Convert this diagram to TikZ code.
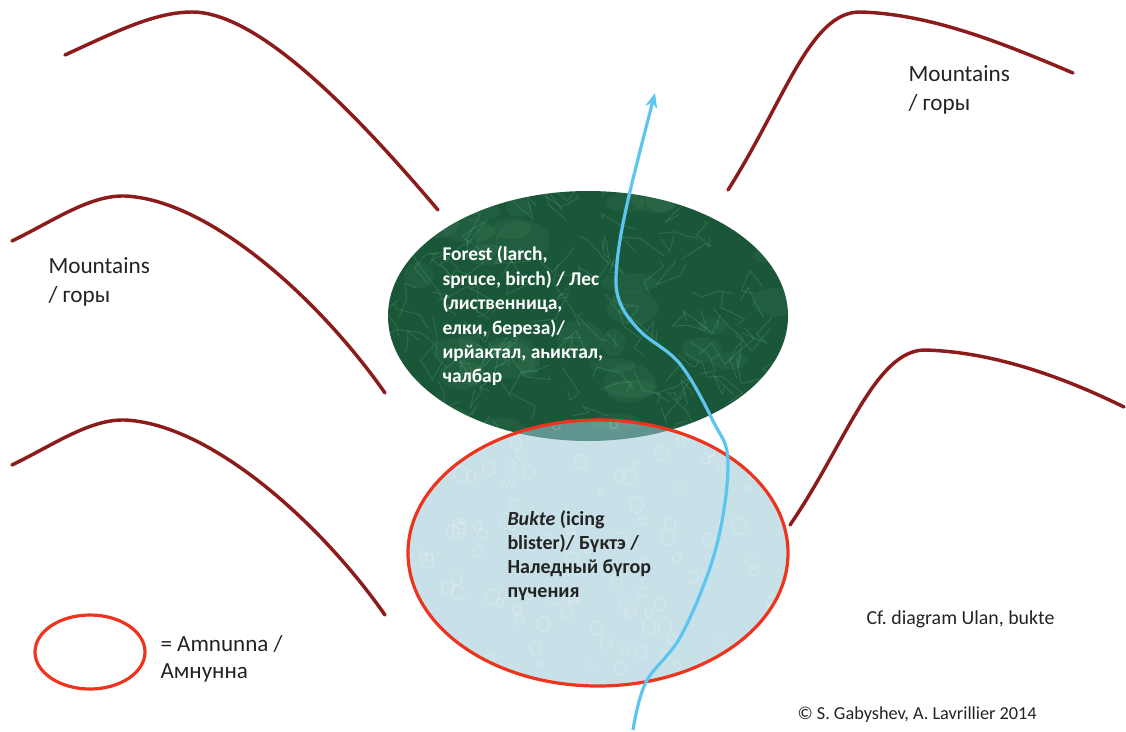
\documentclass[tikz,border=0pt]{standalone}
\usepackage{fontspec}
\setmainfont{Carlito}
\usetikzlibrary{arrows.meta}
\frenchspacing

\definecolor{ridge}{RGB}{140,28,28}
\definecolor{forestgreen}{RGB}{26,86,56}
\definecolor{veingreen}{RGB}{120,190,150}
\definecolor{icefill}{RGB}{155,200,213}
\definecolor{amnred}{RGB}{236,52,30}
\definecolor{river}{RGB}{92,198,240}
\definecolor{labelgray}{RGB}{35,35,35}

\tikzset{every picture/.style={line width=0.75pt}}
\tikzset{
  ridgeline/.style={draw=ridge, line width=2.6pt, line cap=round},
  amnunna/.style={draw=amnred, line width=2.4pt},
  vein/.style={draw=veingreen, line width=0.7pt, opacity=0.22},
  blotch/.style={fill=veingreen, opacity=0.08},
  drop/.style={draw=white, line width=0.5pt, opacity=0.3},
  lbl/.style={anchor=north west, inner sep=0.75pt, align=left, text=labelgray},
}

\begin{document}
\begin{tikzpicture}[x=0.75pt,y=0.75pt,yscale=-1,xscale=1]
      \useasboundingbox (0,0) rectangle (1126,731);

      %Curve Lines [id:ridge_top_left]
      \draw [ridgeline]  (65,55) .. controls (115,32) and (155,12) .. (192,12) .. controls (260,12) and (360,118) .. (438,210) ;
      %Curve Lines [id:ridge_mid_left]
      \draw [ridgeline]  (12,241) .. controls (55,220) and (90,195) .. (125,196) .. controls (210,200) and (320,300) .. (385,393) ;
      %Curve Lines [id:ridge_low_left]
      \draw [ridgeline]  (12,465) .. controls (55,444) and (90,419) .. (125,420) .. controls (210,424) and (320,522) .. (385,615) ;
      %Curve Lines [id:ridge_top_right]
      \draw [ridgeline]  (728,190) .. controls (785,100) and (810,12) .. (860,12) .. controls (930,14) and (1000,42) .. (1073,73) ;
      %Curve Lines [id:ridge_low_right]
      \draw [ridgeline]  (790,525) .. controls (845,445) and (875,350) .. (925,350) .. controls (995,352) and (1065,378) .. (1124,407) ;

      %Shape: Ellipse [id:forest]
      \fill [forestgreen] (588,316) ellipse [x radius=200, y radius=125] ;
      \begin{scope}
        \clip (588,316) ellipse [x radius=200, y radius=125] ;
        \pgfmathsetseed{11}
        \foreach \i in {1,...,40} {
          \fill [blotch] (388+rnd*400,191+rnd*250) ellipse [x radius=10+rnd*20, y radius=6+rnd*14] ;
        }
        \foreach \i in {1,...,120} {
          \pgfmathsetmacro\xa{388+rnd*400}
          \pgfmathsetmacro\ya{191+rnd*250}
          \draw [vein] (\xa,\ya) -- ++(rand*26,rand*26) -- ++(rand*26,rand*26) -- ++(rand*18,rand*18) ;
        }
      \end{scope}

      %Shape: Ellipse [id:bukte]
      \fill [icefill, fill opacity=0.55] (598,553) ellipse [x radius=190, y radius=133] ;
      \begin{scope}
        \clip (598,553) ellipse [x radius=190, y radius=133] ;
        \pgfmathsetseed{5}
        \foreach \i in {1,...,120} {
          \pgfmathsetmacro\xa{408+rnd*380}
          \pgfmathsetmacro\ya{420+rnd*266}
          \pgfmathsetmacro\ra{2+rnd*5}
          \draw [drop] (\xa,\ya) ellipse [x radius=\ra, y radius=\ra*1.2] ;
        }
      \end{scope}
      \draw [amnunna] (598,553) ellipse [x radius=190, y radius=133] ;

      %Curve Lines [id:river]
      \draw [draw=river, line width=2.4pt, -{Stealth[length=11pt,width=9pt]}]
        plot [smooth, tension=0.6] coordinates {(633,730) (646,682) (682,634) (716,548) (728,462) (713,421) (680,364) (640,331) (619,300) (617,263) (628,200) (655,93)} ;

      %Shape: Ellipse [id:legend]
      \draw [amnunna] (90,652) ellipse [x radius=55, y radius=37] ;

      % Text Node
      \draw (441,245) node [lbl, text=white, font=\bfseries\fontsize{14.6}{18.3}\selectfont] (forestlbl) {Forest (larch,\\spruce, birch) / Лес\\(лиственница,\\елки, береза)/\\ирйактал, аһиктал,\\чалбар};
      % Text Node
      \draw (506,509) node [lbl, font=\bfseries\fontsize{15}{18}\selectfont] (buktelbl) {\textit{Bukte} (icing\\blister)/ Бүктэ /\\Наледный бүгор\\пүчения};
      % Text Node
      \draw (47,256) node [lbl, font=\fontsize{17.4}{21.8}\selectfont] (mountleft) {Mountains\\/ горы};
      % Text Node
      \draw (907,64) node [lbl, font=\fontsize{17.4}{21.8}\selectfont] (mountright) {Mountains\\/ горы};
      % Text Node
      \draw (159,634) node [lbl, font=\fontsize{17.3}{20.3}\selectfont] (legendlbl) {= Amnunna /\\Амнунна};
      % Text Node
      \draw (865,609) node [lbl, font=\fontsize{14.9}{17}\selectfont] (cfnote) {Cf. diagram Ulan, bukte};
      % Text Node
      \draw (796,705) node [lbl, font=\fontsize{13.7}{16}\selectfont] (credit) {© S. Gabyshev, A. Lavrillier 2014};
\end{tikzpicture}
\end{document}
